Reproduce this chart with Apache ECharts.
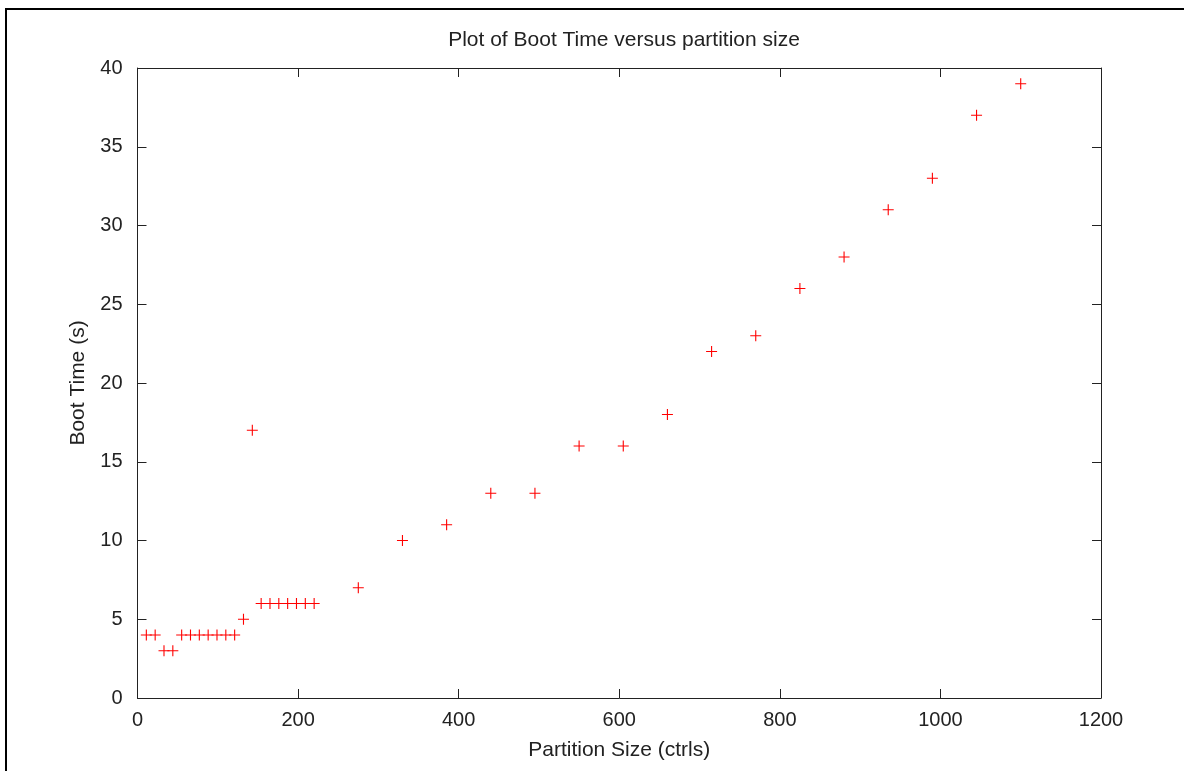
<!DOCTYPE html>
<html>
<head>
<meta charset="utf-8">
<script src="https://cdn.jsdelivr.net/npm/echarts@6/dist/echarts.min.js"></script>
<style>
html,body{margin:0;padding:0;background:#fff;}
#chart{width:1184px;height:771px;}
</style>
</head>
<body>
<div id="chart"></div>
<script>
var titleText = 'Plot of Boot Time versus partition size';
var xName = 'Partition Size (ctrls)';
var yName = 'Boot Time (s)';
var partitionSize = [11,22,33,44,55,66,77,88,99,110,121,132,143,154,165,176,187,198,209,220,275,330,385,440,495,550,605,660,715,770,825,880,935,990,1045,1100];
var bootTime = [4,4,3,3,4,4,4,4,4,4,4,5,17,6,6,6,6,6,6,6,7,10,11,13,13,16,16,18,22,23,26,28,31,33,37,39];
var xTicks = {min:0, max:1200, interval:200};
var yTicks = {min:0, max:40, interval:5};

var points = partitionSize.map(function(x,i){return [x, bootTime[i]];});
var font = 'Liberation Sans, Arial, sans-serif';
var axisColor = '#222';
var chart = echarts.init(document.getElementById('chart'));
function mirrorAxis(pos, t){
  return {
    type:'value', position:pos, min:t.min, max:t.max, interval:t.interval,
    axisLine:{show:true, onZero:false, lineStyle:{color:axisColor, width:1}},
    axisTick:{show:true, inside:true, length:9, lineStyle:{color:axisColor}},
    axisLabel:{show:false}, splitLine:{show:false}
  };
}
chart.setOption({
  animation:false,
  backgroundColor:'#fff',
  title:{text:titleText, left:619, top:25, textAlign:'center',
    textStyle:{fontFamily:font, fontSize:21, fontWeight:'normal', color:'#222'}},
  grid:{left:137.5, right:83, top:68, bottom:73, containLabel:false},
  xAxis:[{
    type:'value', min:xTicks.min, max:xTicks.max, interval:xTicks.interval,
    name:xName, nameLocation:'middle', nameGap:42,
    nameTextStyle:{fontFamily:font, fontSize:21, color:'#222'},
    axisLine:{show:true, onZero:false, lineStyle:{color:axisColor, width:1}},
    axisTick:{show:true, inside:true, length:9, lineStyle:{color:axisColor}},
    axisLabel:{fontFamily:font, fontSize:20, color:'#222', margin:12,
      formatter:function(v){return String(v);}},
    splitLine:{show:false}
  }, mirrorAxis('top', xTicks)],
  yAxis:[{
    type:'value', min:yTicks.min, max:yTicks.max, interval:yTicks.interval,
    name:yName, nameLocation:'middle', nameGap:49, nameRotate:90,
    nameTextStyle:{fontFamily:font, fontSize:21, color:'#222'},
    axisLine:{show:true, onZero:false, lineStyle:{color:axisColor, width:1}},
    axisTick:{show:true, inside:true, length:9, lineStyle:{color:axisColor}},
    axisLabel:{fontFamily:font, fontSize:20, color:'#222', margin:15,
      formatter:function(v){return String(v);}},
    splitLine:{show:false}
  }, mirrorAxis('right', yTicks)],
  graphic:[{type:'rect', shape:{x:6, y:9, width:1300, height:900},
    style:{fill:null, stroke:'#000', lineWidth:2}, silent:true, z:100}],
  series:[{
    type:'scatter', data:points, xAxisIndex:0, yAxisIndex:0,
    symbol:'path://M0,4.5L10,4.5L10,5.5L0,5.5Z M4.5,0L5.5,0L5.5,10L4.5,10Z',
    symbolSize:11,
    itemStyle:{color:'#ff0000', opacity:1}
  }]
});
</script>
</body>
</html>
